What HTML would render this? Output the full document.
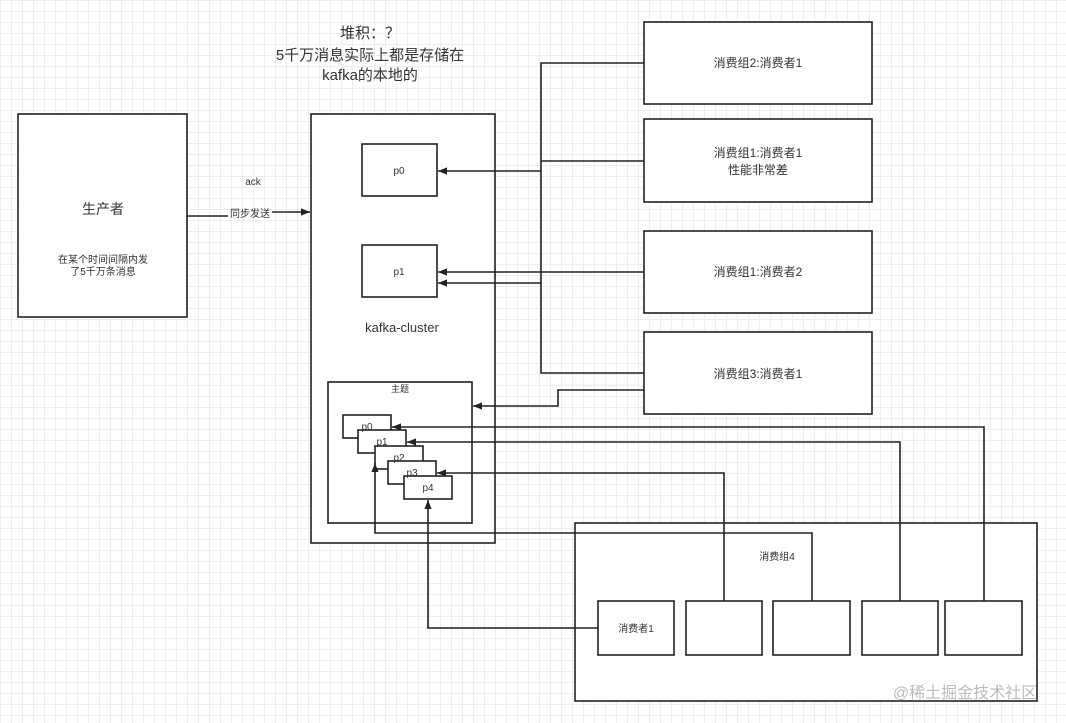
<!DOCTYPE html>
<html><head><meta charset="utf-8"><style>
html,body{margin:0;padding:0;background:#fff}
body{width:1066px;height:723px;overflow:hidden;
background-image:linear-gradient(#eeeeee 1px,transparent 1px),linear-gradient(90deg,#eeeeee 1px,transparent 1px);
background-size:11px 11px}
svg{position:absolute;left:0;top:0}
text{font-family:"Liberation Sans","Noto Sans CJK SC",sans-serif;fill:#333}
</style></head><body>
<svg width="1066" height="723" viewBox="0 0 1066 723">
<defs><marker id="a" viewBox="0 0 10 10" refX="10" refY="5" markerWidth="9" markerHeight="9" markerUnits="userSpaceOnUse" orient="auto"><path d="M0,1 L10,5 L0,9 z" fill="#222"/></marker></defs>
<g fill="#fff" stroke="#222" stroke-width="1.6">
<rect x="18" y="114" width="169" height="203"/>
<rect x="311" y="114" width="184" height="429"/>
<rect x="362" y="144" width="75" height="52"/>
<rect x="362" y="245" width="75" height="52"/>
<rect x="328" y="382" width="144" height="141"/>
<rect x="343" y="415" width="48" height="23"/>
<rect x="358" y="430" width="48" height="23"/>
<rect x="375" y="446" width="48" height="23"/>
<rect x="388" y="461" width="48" height="23"/>
<rect x="404" y="476" width="48" height="23"/>
<rect x="644" y="22" width="228" height="82"/>
<rect x="644" y="119" width="228" height="83"/>
<rect x="644" y="231" width="228" height="82"/>
<rect x="644" y="332" width="228" height="82"/>
<rect x="575" y="523" width="462" height="178"/>
<rect x="598" y="601" width="76" height="54"/>
<rect x="686" y="601" width="76" height="54"/>
<rect x="773" y="601" width="77" height="54"/>
<rect x="862" y="601" width="76" height="54"/>
<rect x="945" y="601" width="77" height="54"/>
</g>
<g fill="none" stroke="#222" stroke-width="1.6">
<path d="M187,216 H228"/><path d="M272,212 H310" marker-end="url(#a)"/>
<path d="M644,63 H541 V373 H644"/>
<path d="M644,161 H541"/>
<path d="M541,171 H438" marker-end="url(#a)"/>
<path d="M644,272 H438" marker-end="url(#a)"/>
<path d="M541,283 H438" marker-end="url(#a)"/>
<path d="M644,390 H558 V406 H473" marker-end="url(#a)"/>
<path d="M984,601 V427 H392" marker-end="url(#a)"/>
<path d="M900,601 V442 H407" marker-end="url(#a)"/>
<path d="M724,601 V473 H437" marker-end="url(#a)"/>
<path d="M812,601 V533 H375 V463" marker-end="url(#a)"/>
<path d="M598,628 H428 V500" marker-end="url(#a)"/>
</g>
<g font-size="15" text-anchor="middle">
<text x="370" y="38">堆积：？</text>
<text x="370" y="60">5千万消息实际上都是存储在</text>
<text x="370" y="80">kafka的本地的</text>
</g>
<g text-anchor="middle" font-size="12">
<text x="103" y="214" font-size="14">生产者</text>
<text x="103" y="263" font-size="10">在某个时间间隔内发</text>
<text x="103" y="275" font-size="10">了5千万条消息</text>
<text x="253" y="185" font-size="10">ack</text>
<text x="250" y="217" font-size="10">同步发送</text>
<text x="399" y="174" font-size="10">p0</text>
<text x="399" y="275" font-size="10">p1</text>
<text x="402" y="332" font-size="13">kafka-cluster</text>
<text x="400" y="392" font-size="9">主题</text>
<text x="367" y="430" font-size="10">p0</text>
<text x="382" y="445" font-size="10">p1</text>
<text x="399" y="461" font-size="10">p2</text>
<text x="412" y="476" font-size="10">p3</text>
<text x="428" y="491" font-size="10">p4</text>
<text x="758" y="67">消费组2:消费者1</text>
<text x="758" y="157">消费组1:消费者1</text>
<text x="758" y="174">性能非常差</text>
<text x="758" y="276">消费组1:消费者2</text>
<text x="758" y="378">消费组3:消费者1</text>
<text x="777" y="560" font-size="10">消费组4</text>
<text x="636" y="632" font-size="10">消费者1</text>
<text x="965" y="698" font-size="16" style="fill:#bbb">@稀土掘金技术社区</text>
</g>
</svg>
</body></html>
